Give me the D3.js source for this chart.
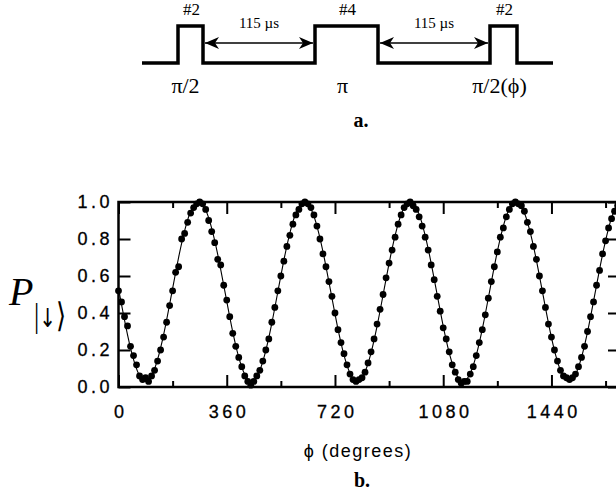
<!DOCTYPE html>
<html>
<head>
<meta charset="utf-8">
<script src="https://cdn.jsdelivr.net/npm/d3@7"></script>
<style>
    body { margin: 0; background: #fff; }
    .tick text { font-family: "Liberation Sans", Arial, sans-serif; font-size: 18px; letter-spacing: 3.5px; fill: #000; stroke: #000; stroke-width: 0.3px; }
    .serif { font-family: "Liberation Serif", "Times New Roman", serif; fill: #000; }
</style>
</head>
<body>
<div id="vis-container"></div>
<script>
// ---- data ----
// pulse schematic (time units along the sequence)
var pulseNames = ["#2", "#4", "#2"];
var pulseAngles = ["π/2", "π", "π/2(ϕ)"];
var pulseStart = [36, 173, 348];
var pulseEnd = [61, 236, 375];
var seqLength = 411;
var gapLabel = "115 µs";

// measured P(down) vs phase phi (degrees), one point every 10 deg
var phiStep = 10;
var pDown = [
    0.52, 0.46, 0.38, 0.33, 0.22, 0.17, 0.12, 0.06, 0.04, 0.05,
    0.03, 0.06, 0.09, 0.14, 0.20, 0.27, 0.35, 0.44, 0.52, 0.62,
    0.65, 0.80, 0.83, 0.89, 0.94, 0.97, 0.99, 1.00, 0.99, 0.96,
    0.90, 0.84, 0.78, 0.69, 0.66, 0.55, 0.47, 0.38, 0.29, 0.22,
    0.16, 0.11, 0.06, 0.03, 0.01, 0.03, 0.06, 0.09, 0.14, 0.20,
    0.26, 0.35, 0.43, 0.52, 0.60, 0.68, 0.76, 0.82, 0.88, 0.93,
    0.96, 0.99, 1.00, 0.99, 0.97, 0.93, 0.87, 0.80, 0.72, 0.65,
    0.57, 0.49, 0.40, 0.31, 0.24, 0.18, 0.12, 0.07, 0.04, 0.03,
    0.04, 0.05, 0.08, 0.13, 0.19, 0.26, 0.34, 0.42, 0.50, 0.59,
    0.67, 0.74, 0.81, 0.88, 0.93, 0.97, 0.99, 1.00, 0.98, 0.96,
    0.92, 0.87, 0.81, 0.74, 0.66, 0.58, 0.49, 0.41, 0.32, 0.26,
    0.19, 0.12, 0.08, 0.04, 0.02, 0.03, 0.03, 0.07, 0.11, 0.17,
    0.24, 0.31, 0.39, 0.48, 0.57, 0.65, 0.73, 0.81, 0.86, 0.92,
    0.96, 0.99, 1.00, 0.99, 0.98, 0.95, 0.89, 0.84, 0.76, 0.69,
    0.60, 0.52, 0.43, 0.34, 0.27, 0.20, 0.14, 0.09, 0.06, 0.05,
    0.04, 0.05, 0.07, 0.11, 0.16, 0.22, 0.30, 0.38, 0.46, 0.55,
    0.63, 0.72, 0.79, 0.86, 0.91, 0.95, 0.98
];

// fitted curve
var fitPhi = [-20, 2, 24, 46, 68, 90, 112, 134, 156, 178, 200, 222, 244, 266, 288, 310, 332, 354,
    376, 398, 420, 442, 464, 486, 508, 530, 552, 574, 596, 618, 640, 662, 684, 706, 728, 750,
    772, 794, 816, 838, 860, 882, 904, 926, 948, 970, 992, 1014, 1036, 1058, 1080, 1102, 1124,
    1146, 1168, 1190, 1212, 1234, 1256, 1278, 1300, 1322, 1344, 1366, 1388, 1410, 1432, 1454,
    1476, 1498, 1520, 1542, 1564, 1586, 1608, 1630, 1652, 1674];
var fitP = [0.701,
    0.515, 0.329, 0.172, 0.067, 0.030, 0.067, 0.172, 0.329, 0.515, 0.701, 0.858, 0.963, 1.000, 0.963, 0.858, 0.701,
    0.515, 0.329, 0.172, 0.067, 0.030, 0.067, 0.172, 0.329, 0.515, 0.701, 0.858, 0.963, 1.000, 0.963, 0.858, 0.701,
    0.515, 0.329, 0.172, 0.067, 0.030, 0.067, 0.172, 0.329, 0.515, 0.701, 0.858, 0.963, 1.000, 0.963, 0.858, 0.701,
    0.515, 0.329, 0.172, 0.067, 0.030, 0.067, 0.172, 0.329, 0.515, 0.701, 0.858, 0.963, 1.000, 0.963, 0.858, 0.701,
    0.515, 0.329, 0.172, 0.067, 0.030, 0.067, 0.172, 0.329, 0.515, 0.701, 0.858, 0.963, 1.000];

var xMajorTicks = [0, 360, 720, 1080, 1440];
var xMinorTicks = [180, 540, 900, 1260, 1620];
var yTicks = [0, 0.2, 0.4, 0.6, 0.8, 1.0];

// ---- layout ----
var width = 616;
var height = 495;
var plot = { left: 118.5, right: 620, top: 202, bottom: 387 };

var svg = d3.select("#vis-container").append("svg")
    .attr("width", width).attr("height", height);

// ---------------- (a) pulse sequence ----------------
var tScale = d3.scaleLinear().domain([0, seqLength]).range([142, 553]);
var lowY = 63, highY = 26, arrowY = 43;

var seq = [[0, lowY]];
pulseStart.forEach(function (s, i) {
    seq.push([s, lowY], [s, highY], [pulseEnd[i], highY], [pulseEnd[i], lowY]);
});
seq.push([seqLength, lowY]);

svg.append("path")
    .attr("d", d3.line().x(d => tScale(d[0])).y(d => d[1])(seq))
    .attr("fill", "none")
    .attr("stroke", "#000")
    .attr("stroke-width", 3.5)
    .attr("stroke-linejoin", "miter");

// arrowhead marker
var defs = svg.append("defs");
defs.append("marker")
    .attr("id", "head")
    .attr("viewBox", "0 0 14 12")
    .attr("refX", 14).attr("refY", 6)
    .attr("markerWidth", 14).attr("markerHeight", 12)
    .attr("markerUnits", "userSpaceOnUse")
    .attr("orient", "auto-start-reverse")
    .append("path")
    .attr("d", "M0,0 L14,6 L0,12 L4,6 Z")
    .attr("fill", "#000");

// arrows between consecutive pulses
for (var i = 0; i < pulseStart.length - 1; i++) {
    var x1 = tScale(pulseEnd[i]) + 2, x2 = tScale(pulseStart[i + 1]) - 2;
    svg.append("line")
        .attr("x1", x1).attr("x2", x2)
        .attr("y1", arrowY).attr("y2", arrowY)
        .attr("stroke", "#000").attr("stroke-width", 1.6)
        .attr("marker-start", "url(#head)")
        .attr("marker-end", "url(#head)");
    svg.append("text")
        .attr("class", "serif")
        .attr("x", (x1 + x2) / 2).attr("y", 28)
        .attr("text-anchor", "middle")
        .attr("font-size", 15)
        .text(gapLabel);
}

pulseStart.forEach(function (s, i) {
    var cx = tScale((s + pulseEnd[i]) / 2);
    svg.append("text")
        .attr("class", "serif")
        .attr("x", cx + 1).attr("y", 15)
        .attr("text-anchor", "middle")
        .attr("font-size", 17)
        .text(pulseNames[i]);
    svg.append("text")
        .attr("class", "serif")
        .attr("x", i === 0 ? cx - 5 : cx - 4).attr("y", 93)
        .attr("text-anchor", "middle")
        .attr("font-size", 22)
        .text(pulseAngles[i]);
});

svg.append("text")
    .attr("class", "serif")
    .attr("x", 361).attr("y", 127)
    .attr("text-anchor", "middle")
    .attr("font-size", 20).attr("font-weight", "bold")
    .text("a.");

// ---------------- (b) phase scan ----------------
var xScale = d3.scaleLinear().domain([0, 1668]).range([plot.left, plot.right]);
var yScale = d3.scaleLinear().domain([0, 1]).range([plot.bottom, plot.top]);

defs.append("clipPath").attr("id", "plot-clip")
    .append("rect")
    .attr("x", plot.left).attr("y", plot.top - 10)
    .attr("width", plot.right - plot.left).attr("height", plot.bottom - plot.top + 20);

var axisG = svg.append("g");

// bottom axis, major + minor ticks pointing in
axisG.append("g")
    .attr("transform", "translate(0," + plot.bottom + ")")
    .call(d3.axisBottom(xScale).tickValues(xMajorTicks).tickSizeInner(-12).tickSizeOuter(0).tickPadding(18).tickFormat(d3.format("d")));
axisG.append("g")
    .attr("transform", "translate(0," + plot.bottom + ")")
    .call(d3.axisBottom(xScale).tickValues(xMinorTicks).tickSizeInner(-6).tickSizeOuter(0).tickFormat(""));

// top axis
axisG.append("g")
    .attr("transform", "translate(0," + plot.top + ")")
    .call(d3.axisTop(xScale).tickValues(xMajorTicks).tickSizeInner(-12).tickSizeOuter(0).tickFormat(""));
axisG.append("g")
    .attr("transform", "translate(0," + plot.top + ")")
    .call(d3.axisTop(xScale).tickValues(xMinorTicks).tickSizeInner(-6).tickSizeOuter(0).tickFormat(""));

// left + right axes
axisG.append("g")
    .attr("transform", "translate(" + plot.left + ",0)")
    .call(d3.axisLeft(yScale).tickValues(yTicks).tickSizeInner(-12).tickSizeOuter(0).tickPadding(9).tickFormat(d3.format(".1f")));
axisG.append("g")
    .attr("transform", "translate(" + plot.right + ",0)")
    .call(d3.axisRight(yScale).tickValues(yTicks).tickSizeInner(-12).tickSizeOuter(0).tickFormat(""));

axisG.selectAll(".domain").remove();
axisG.selectAll(".tick line").attr("stroke", "#000").attr("stroke-width", 2);
// letter-spacing shifts anchored text, push it back
axisG.selectAll(".tick text").attr("dx", function () {
    return d3.select(this.parentNode.parentNode).attr("text-anchor") === "end" ? 3.5 : 1.75;
});

// frame
axisG.append("rect")
    .attr("x", plot.left).attr("y", plot.top)
    .attr("width", plot.right - plot.left).attr("height", plot.bottom - plot.top)
    .attr("fill", "none").attr("stroke", "#000").attr("stroke-width", 2.5);

// fit line
var fitLine = d3.line()
    .x((d, i) => xScale(fitPhi[i]))
    .y(d => yScale(d))
    .curve(d3.curveNatural);

svg.append("path")
    .attr("d", fitLine(fitP))
    .attr("clip-path", "url(#plot-clip)")
    .attr("fill", "none")
    .attr("stroke", "#000")
    .attr("stroke-width", 1.1);

// data points
svg.append("g").selectAll("circle")
    .data(pDown).enter()
    .append("circle")
    .attr("cx", (d, i) => xScale(i * phiStep))
    .attr("cy", d => yScale(d))
    .attr("r", 3.4)
    .attr("fill", "#000");

// axis titles
svg.append("text")
    .attr("class", "serif")
    .attr("x", 9).attr("y", 305)
    .attr("font-size", 40).attr("font-style", "italic")
    .text("P");
var sub = svg.append("text")
    .attr("class", "serif")
    .attr("transform", "translate(34,327) scale(1,1.3)")
    .attr("font-size", 26);
sub.append("tspan").text("|");
sub.append("tspan").attr("font-family", "'DejaVu Sans', sans-serif").attr("font-size", 20).text("\u2193\uFE0E");
sub.append("tspan").attr("font-family", "'DejaVu Serif', serif").text("\u27E9");

svg.append("text")
    .attr("x", 358).attr("y", 457)
    .attr("text-anchor", "middle")
    .attr("font-family", "'Liberation Sans', Arial, sans-serif")
    .attr("font-size", 18)
    .attr("letter-spacing", "1.5px")
    .text("ϕ (degrees)");

svg.append("text")
    .attr("class", "serif")
    .attr("x", 362).attr("y", 487)
    .attr("text-anchor", "middle")
    .attr("font-size", 20).attr("font-weight", "bold")
    .text("b.");
</script>
</body>
</html>
